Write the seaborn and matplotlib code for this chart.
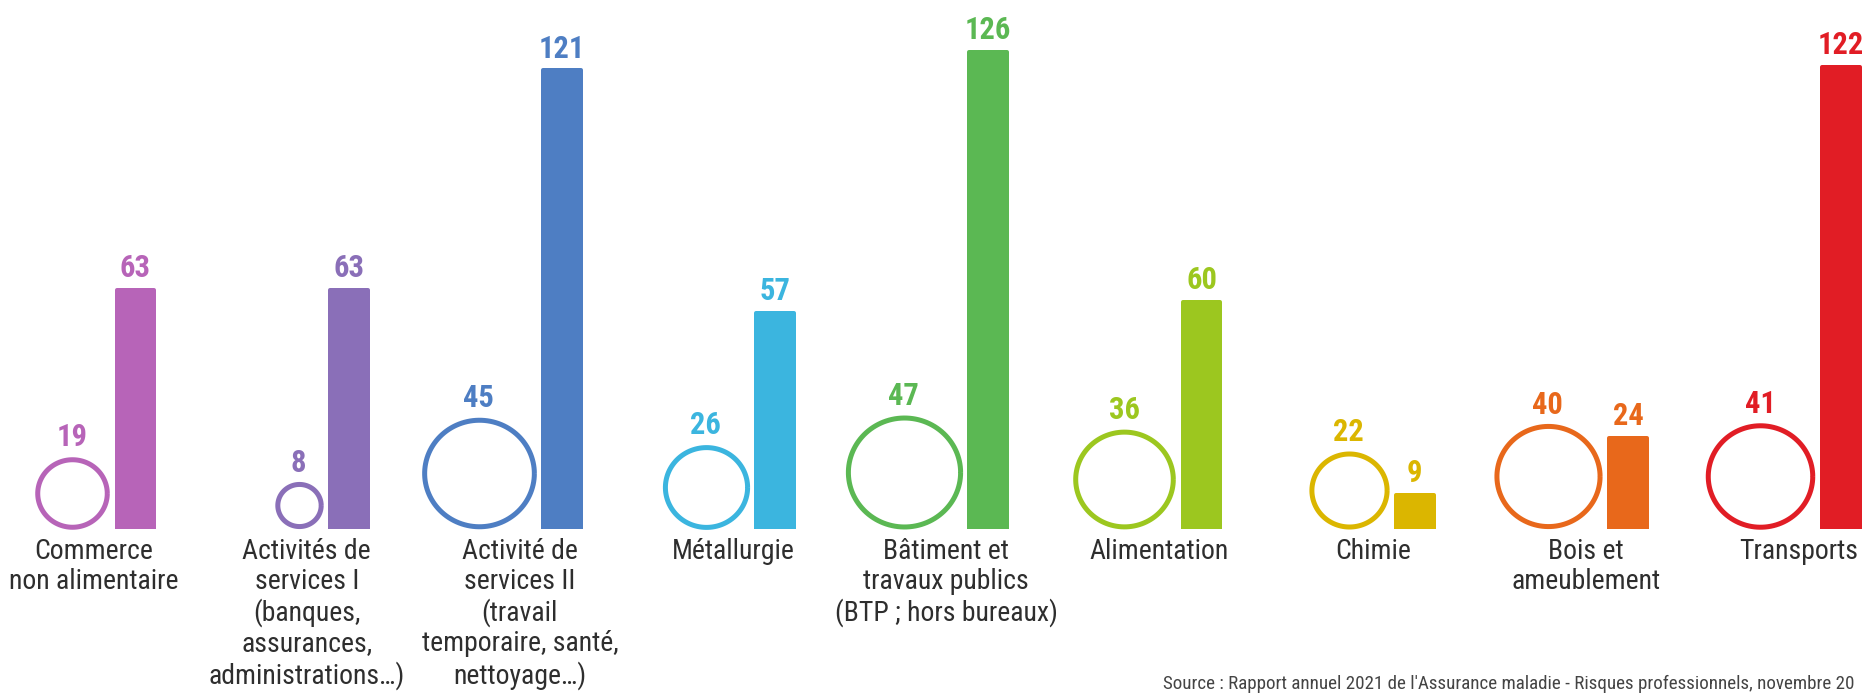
import matplotlib
matplotlib.use("Agg")
import matplotlib.pyplot as plt
import matplotlib.transforms as mtrans
from matplotlib.path import Path
import numpy as np
import pandas as pd
import seaborn as sns

secteurs = [
    "Commerce\nnon alimentaire",
    "Activités de\nservices I\n(banques,\nassurances,\nadministrations…)",
    "Activité de\nservices II\n(travail\ntemporaire, santé,\nnettoyage…)",
    "Métallurgie",
    "Bâtiment et\ntravaux publics\n(BTP ; hors bureaux)",
    "Alimentation",
    "Chimie",
    "Bois et\nameublement",
    "Transports",
]
cercles = [19, 8, 45, 26, 47, 36, 22, 40, 41]
barres = [63, 63, 121, 57, 126, 60, 9, 24, 122]
couleurs = ["#b764b8", "#8a6fb8", "#4e7ec3", "#3bb5df", "#5bb853",
            "#9cc71f", "#dbb600", "#e8681b", "#e11d25"]
source = "Source : Rapport annuel 2021 de l'Assurance maladie - Risques professionnels, novembre 20"

df = pd.DataFrame({"secteur": secteurs, "cercle": cercles, "barre": barres})

sns.set_theme(style="white")
plt.rcParams["font.family"] = ["Roboto Condensed", "Fira Sans Condensed",
                               "PT Sans Narrow", "DejaVu Sans"]

fig = plt.figure(figsize=(18.65, 6.94), dpi=100)
DPI = fig.dpi

def shift(dx_px, dy_px):
    return mtrans.ScaledTranslation(dx_px / DPI, dy_px / DPI, fig.dpi_scale_trans)

ax = fig.add_axes([0, 0.2378, 1, 0.7622])
sns.barplot(data=df, x="secteur", y="barre", hue="secteur", palette=couleurs,
            width=0.178, saturation=1, legend=False, ax=ax)
ax.set_xlim(-0.6355, 8.112)
ax.set_ylim(0, 139.6)
ax.set_axis_off()

# rings are very slightly wider than tall
t = np.linspace(0, 2 * np.pi, 120)
ring = Path(np.column_stack([1.03 * np.cos(t), np.sin(t)]))
stroke = 5.0   # px
edge = 4.0     # px, rounded edge around the bars

for i, cont in enumerate(ax.containers):
    col = couleurs[i]
    for p in cont.patches:
        p.set_edgecolor(col)
        p.set_linewidth(edge * 72 / DPI)
        p.set_joinstyle("round")
    ax.bar_label(cont, padding=5, fontsize=22, fontweight="bold", color=col)
    x_left = cont.patches[0].get_x()

    v = df["cercle"][i]
    W = 17.1 * np.sqrt(v)               # outer width, px
    H = (W - stroke) / 1.03 + stroke    # outer height, px
    dx = -(edge / 2 + 5 + W / 2)
    ax.plot([x_left], [0], marker=ring, ms=(W - stroke) * 72 / DPI,
            mfc="none", mec=col, mew=stroke * 72 / DPI,
            transform=ax.transData + shift(dx, H / 2), clip_on=False)
    ax.text(x_left, 0, str(v), transform=ax.transData + shift(dx, H + 4),
            ha="center", va="bottom", fontsize=22, fontweight="bold", color=col)

    # sector name, centred on the ring + bar group
    ax.text(i, 0, df["secteur"][i], transform=ax.transData + shift(-42, -9),
            ha="center", va="top", fontsize=20, color="#2e2e2e",
            linespacing=1.15)

fig.text(1163 / 1865, 1 - 684 / 694, source, ha="left", va="center",
         fontsize=13.7, color="#444444")

fig.savefig("out.png", dpi=100)
